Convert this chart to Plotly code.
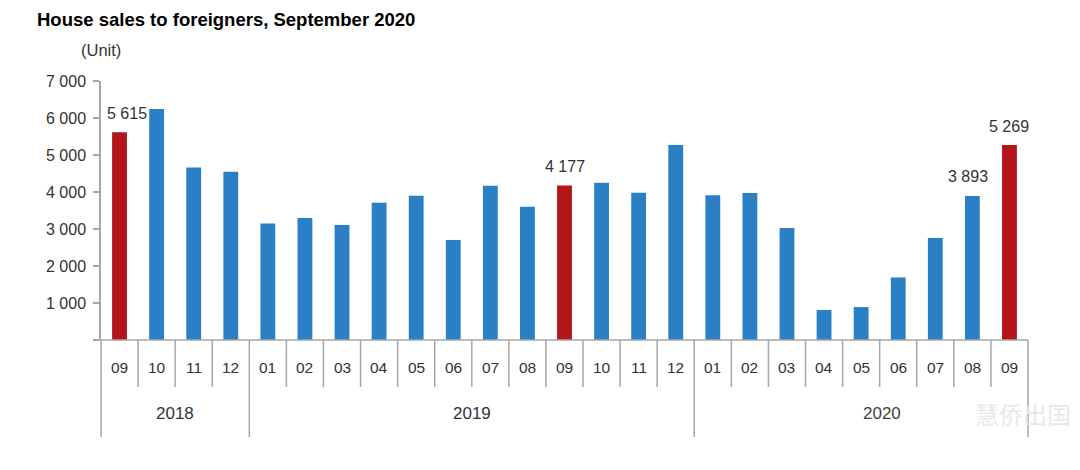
import plotly.graph_objects as go

# ---- data ----
months = ["09", "10", "11", "12",
          "01", "02", "03", "04", "05", "06", "07", "08", "09", "10", "11", "12",
          "01", "02", "03", "04", "05", "06", "07", "08", "09"]
years = ["2018"] * 4 + ["2019"] * 12 + ["2020"] * 9
sales = [5615, 6240, 4660, 4550,
         3150, 3300, 3110, 3710, 3900, 2700, 4170, 3600, 4177, 4250, 3980, 5270,
         3910, 3970, 3030, 810, 890, 1690, 2760, 3893, 5269]
labeled = [0, 12, 23, 24]          # bars carrying value labels
highlight = [0, 12, 24]            # September bars in red
y_ticks = [0, 1000, 2000, 3000, 4000, 5000, 6000, 7000]

BLUE = "#2b80c5"
RED = "#b3151a"
GRID = "#a6a6a6"
TXT = "#333333"
FONT = "Liberation Sans, Arial, sans-serif"

W, H = 1072, 462          # page body has an 8px margin
L, R, T, B = 93, 52, 73, 130


def fmt(v):
    return "{:,}".format(v).replace(",", " ")


n = len(sales)
xs = list(range(n))
colors = [RED if i in highlight else BLUE for i in xs]

fig = go.Figure()
fig.add_trace(go.Bar(
    x=xs, y=sales, marker=dict(color=colors, line=dict(width=0)),
    hoverinfo="skip",
))

shapes = []
annotations = []
ph = H - T - B  # plot height px

# value labels above selected bars
for i in labeled:
    annotations.append(dict(x=xs[i], y=sales[i], xref="x", yref="y", text=fmt(sales[i]),
                            showarrow=False, xanchor="center", yanchor="middle",
                            yshift=19, xshift=7 if i == 0 else (-4 if i == 23 else 0),
                            font=dict(size=16, color=TXT, family=FONT)))

# month dividers (short) and year dividers (long)
year_bounds = [-0.5]
for i in range(1, n):
    if years[i] != years[i - 1]:
        year_bounds.append(i - 0.5)
year_bounds.append(n - 0.5)

for i in range(n + 1):
    b = i - 0.5
    long_ = b in year_bounds
    xp = (b + 0.5) / n
    drop = 97 if long_ else 47
    shapes.append(dict(type="line", xref="paper", yref="paper",
                       x0=xp, x1=xp, y0=0, y1=-drop / ph,
                       line=dict(color=GRID, width=1.5)))

# month labels
for i, m in enumerate(months):
    annotations.append(dict(x=(i + 0.5) / n, y=0, xref="paper", yref="paper", yshift=-27, text=m,
                            xanchor="center", yanchor="middle",
                            showarrow=False, font=dict(size=15.5, color=TXT, family=FONT)))

# year labels
for k in range(len(year_bounds) - 1):
    a, b = year_bounds[k], year_bounds[k + 1]
    yr = years[int(a + 0.5)]
    last = k == len(year_bounds) - 2
    annotations.append(dict(x=((a + b) / 2 + 0.5) / n, y=0, xref="paper", yref="paper", yshift=-73,
                            xanchor="center", yanchor="middle",
                            xshift=21 if last else 0, text=yr, showarrow=False,
                            font=dict(size=17, color="#404040" if last else TXT, family=FONT)))

# horizontal zero line extending slightly left of the axis
shapes.append(dict(type="line", xref="paper", yref="paper",
                   x0=-6 / (W - L - R), x1=1, y0=0, y1=0, line=dict(color=GRID, width=1.5)))

# unit
annotations.append(dict(xref="paper", yref="paper", x=0, y=1, text="(Unit)", showarrow=False,
                        xanchor="left", yanchor="middle", xshift=-22, yshift=31,
                        font=dict(size=16.5, color=TXT, family=FONT)))

# faint watermark
annotations.append(dict(xref="paper", yref="paper", x=1, y=0, text="慧侨出国", showarrow=False,
                        xanchor="center", yanchor="middle", xshift=-5, yshift=-73,
                        font=dict(size=24, color="#e8e8e8", family="Noto Sans CJK SC")))

fig.update_layout(
    width=W, height=H,
    margin=dict(l=L, r=R, t=T, b=B),
    paper_bgcolor="white", plot_bgcolor="white",
    bargap=0.6, showlegend=False,
    title=dict(text="<b>House sales to foreigners, September 2020</b>",
               x=29 / W, xanchor="left", y=1 - 12 / H, yanchor="middle",
               font=dict(size=18.5, color="#000000", family=FONT)),
    xaxis=dict(range=[-0.5, n - 0.5], showticklabels=False, showgrid=False,
               zeroline=False, showline=False, ticks=""),
    yaxis=dict(range=[0, 7000], tickvals=y_ticks,
               ticktext=["" if v == 0 else fmt(v) for v in y_ticks],
               ticks="outside", ticklen=6, tickcolor=GRID, tickwidth=1.5,
               showline=True, linecolor=GRID, linewidth=1.5,
               showgrid=False, zeroline=False, ticklabelstandoff=4,
               tickfont=dict(size=16, color=TXT, family=FONT)),
    shapes=shapes, annotations=annotations,
)

fig.write_html("out.html")
